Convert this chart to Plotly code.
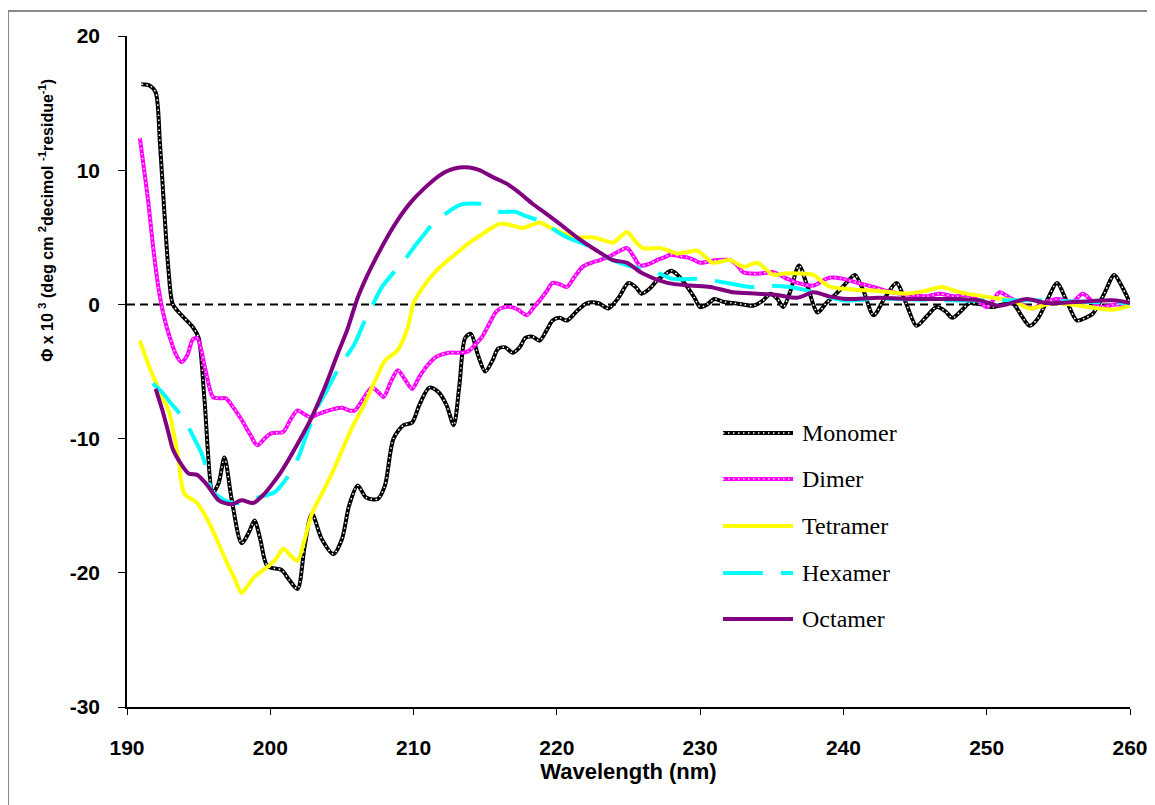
import plotly.graph_objects as go

# ---------------- data ----------------
mono_x = [191.0, 191.6, 192.0, 192.3, 192.6, 192.9, 193.2, 193.8, 194.6, 195.0, 195.4, 196.0, 196.4, 196.8,
          197.3, 198.0, 198.5, 198.9, 199.3, 199.8, 200.8, 201.3, 201.9, 202.4, 202.9, 203.6, 204.4, 205.0,
          205.5, 206.1, 206.7, 207.5, 208.0, 208.6, 209.3, 209.9, 210.4, 211.1, 211.7, 212.3, 212.8, 213.2,
          213.6, 214.0, 214.5, 215.0, 215.5, 215.9, 216.4, 216.9, 217.4, 217.8, 218.3, 218.8, 219.3, 219.7,
          220.2, 220.7, 221.4, 222.1, 222.9, 223.6, 224.3, 225.0, 225.5, 225.9, 226.5, 227.0, 227.5, 228.0,
          228.6, 229.1, 229.6, 230.0, 230.5, 231.0, 231.6, 232.3, 233.0, 233.7, 234.4, 234.9, 235.4, 235.8,
          236.3, 236.9, 237.5, 238.2, 238.8, 239.5, 240.2, 240.8, 241.4, 242.1, 242.9, 243.7, 244.4, 245.1,
          245.8, 246.5, 247.1, 247.6, 248.2, 248.8, 249.6, 250.4, 251.1, 251.8, 252.4, 253.0, 253.6, 254.3,
          254.9, 255.6, 256.3, 256.9, 257.4, 258.2, 258.9, 259.5, 260.0]
mono_y = [16.4, 16.3, 15.8, 12.0, 7.0, 2.5, 0.0, -0.8, -1.7, -2.5, -7.0, -14.0, -13.3, -11.4,
          -14.5, -17.8, -17.0, -16.1, -17.5, -19.5, -19.8, -20.5, -21.2, -18.0, -15.6, -17.5, -18.6, -17.5,
          -15.0, -13.5, -14.4, -14.5, -13.5, -10.0, -9.0, -8.8, -7.5, -6.2, -6.5, -7.5, -9.0, -6.0,
          -2.5, -2.2, -3.8, -5.0, -4.2, -3.3, -3.2, -3.6, -3.2, -2.5, -2.4, -2.7, -1.9, -1.2,
          -1.0, -1.2, -0.5, 0.1, 0.1, -0.3, 0.5, 1.6, 1.3, 0.8, 1.2, 1.8, 2.2, 2.5,
          2.0, 1.3, 0.5, -0.2, 0.0, 0.4, 0.2, 0.1, 0.0, -0.1, 0.3, 0.8, 0.4, -0.2,
          1.0, 2.9, 1.3, -0.6, 0.1, 0.8, 1.6, 2.2, 1.0, -0.8, 0.5, 1.6, 0.0, -1.6,
          -0.9, -0.2, -0.5, -1.0, -0.5, 0.1, 0.0, -0.2, 0.0, 0.1, -0.8, -1.6, -1.0, 0.5,
          1.6, 0.2, -1.2, -1.0, -0.7, 0.8, 2.2, 1.2, 0.1]

dimer_x = [190.9, 191.2, 191.5, 191.8, 192.2, 192.6, 193.0, 193.4, 193.8, 194.2, 194.6, 194.9, 195.2, 195.5,
           196.0, 196.5, 196.9, 197.5, 198.0, 198.6, 199.1, 199.6, 200.1, 200.9, 201.4, 201.9, 202.4, 202.8,
           203.3, 203.8, 204.4, 205.0, 205.5, 205.9, 206.5, 207.1, 207.5, 207.9, 208.4, 208.9, 209.4, 209.9,
           210.4, 211.0, 211.6, 212.5, 213.3, 213.8, 214.3, 214.8, 215.3, 215.8, 216.3, 216.8, 217.3, 217.9,
           218.4, 218.8, 219.3, 219.7, 220.2, 220.7, 221.2, 221.8, 222.4, 223.0, 223.5, 223.9, 224.4, 224.9,
           225.4, 225.8, 226.4, 227.0, 227.5, 227.9, 228.5, 229.1, 229.6, 230.0, 230.6, 231.2, 232.1, 232.6,
           233.0, 233.6, 234.2, 235.1, 235.9, 236.8, 237.9, 238.6, 239.1, 240.0, 241.0, 242.1, 243.0, 244.0,
           244.9, 245.8, 246.7, 247.7, 248.8, 249.4, 250.0, 250.5, 250.9, 251.6, 252.3, 253.2, 254.0, 254.9,
           256.0, 256.7, 257.3, 257.9, 259.0, 260.0]
dimer_y = [12.4, 10.0, 7.5, 4.5, 1.2, -1.0, -2.5, -3.7, -4.3, -3.8, -2.6, -2.5, -3.5, -5.0,
           -6.9, -7.0, -7.0, -7.8, -8.6, -9.7, -10.5, -10.0, -9.6, -9.5, -8.6, -7.9, -8.2, -8.4,
           -8.2, -8.0, -7.8, -7.7, -7.9, -7.9, -7.0, -6.2, -6.5, -6.9, -5.8, -4.9, -5.6, -6.3,
           -5.4, -4.5, -3.9, -3.6, -3.6, -3.5, -3.0, -2.4, -1.4, -0.5, -0.2, -0.2, -0.4, -0.8,
           -0.2, 0.3, 1.0, 1.6, 1.5, 1.3, 2.0, 2.8, 3.1, 3.3, 3.5, 3.7, 4.0, 4.2,
           3.5, 2.9, 3.0, 3.3, 3.5, 3.7, 3.6, 3.5, 3.3, 3.1, 3.2, 3.3, 3.3, 2.9,
           2.4, 2.3, 2.3, 2.4, 2.0, 1.6, 1.4, 1.8, 2.0, 1.9, 1.6, 1.3, 1.0, 0.8,
           0.7, 0.6, 0.8, 0.6, 0.7, 0.3, -0.2, 0.4, 0.9, 0.5, 0.1, -0.3, 0.1, 0.4,
           0.2, 0.8, 0.3, -0.2, 0.0, -0.1]

tetra_x = [190.9, 191.5, 192.2, 192.9, 193.3, 193.6, 194.0, 194.9, 195.5, 196.1, 196.5, 197.0, 197.5, 198.0,
           198.4, 198.9, 199.5, 200.1, 200.5, 200.9, 201.4, 201.9, 202.4, 202.9, 203.6, 204.3, 205.0, 205.7,
           206.3, 206.8, 207.4, 208.0, 208.9, 209.6, 210.0, 210.6, 211.4, 212.3, 213.2, 213.9, 214.6, 215.3,
           216.0, 216.8, 217.6, 218.2, 218.8, 219.4, 220.0, 220.7, 221.4, 222.5, 223.2, 223.9, 224.4, 224.9,
           225.4, 226.0, 227.2, 227.8, 228.4, 229.1, 229.8, 230.4, 230.9, 232.1, 233.0, 234.0, 234.6, 235.1,
           235.9, 236.8, 237.9, 238.5, 239.1, 240.8, 242.5, 244.4, 245.7, 246.9, 247.8, 248.6, 250.4, 251.8,
           253.0, 254.6, 256.5, 258.8, 260.0]
tetra_y = [-2.7, -4.5, -6.3, -7.9, -9.8, -11.6, -14.1, -14.8, -15.8, -17.1, -18.1, -19.3, -20.4, -21.5,
           -21.0, -20.3, -19.8, -19.3, -18.8, -18.2, -18.7, -19.1, -17.5, -15.6, -14.1, -12.6, -10.9, -9.2,
           -8.0, -6.9, -5.5, -4.2, -3.4, -1.7, 0.1, 1.2, 2.3, 3.2, 4.0, 4.6, 5.1, 5.6,
           6.0, 5.9, 5.7, 5.9, 6.1, 5.8, 5.5, 5.2, 5.0, 5.0, 4.8, 4.6, 5.0, 5.4,
           4.8, 4.2, 4.2, 4.0, 3.8, 3.9, 4.0, 3.5, 3.1, 3.3, 2.8, 3.1, 2.6, 2.2,
           2.3, 2.3, 2.2, 1.7, 1.3, 1.1, 1.0, 0.8, 1.0, 1.3, 1.0, 0.8, 0.5, 0.3,
           -0.3, 0.1, -0.1, -0.4, -0.1]

hexa_x = [191.8, 192.4, 193.1, 194.0, 194.6, 195.2, 195.6, 195.9, 196.4, 196.8, 197.4, 198.0, 199.1, 200.3,
          200.9, 201.5, 202.0, 202.4, 203.1, 203.9, 204.7, 205.3, 205.9, 206.6, 207.3, 207.8, 208.7, 209.5,
          210.2, 210.8, 211.4, 212.3, 213.2, 214.6, 215.3, 216.0, 217.1, 217.8, 218.6, 219.6, 220.7, 222.1,
          223.5, 224.4, 225.3, 226.7, 228.1, 230.0, 231.9, 233.5, 234.9, 236.3, 237.2, 238.5, 240.0, 242.0,
          244.0, 247.2, 250.0, 253.2, 256.5, 260.0]
hexa_y = [-5.9, -6.5, -7.4, -8.6, -9.8, -11.1, -12.5, -13.9, -14.3, -14.6, -14.8, -14.8, -14.4, -14.0,
          -13.3, -12.4, -11.3, -10.1, -8.1, -6.5, -4.9, -3.9, -2.9, -1.2, 0.3, 1.3, 2.5, 3.5,
          4.5, 5.3, 6.1, 6.8, 7.4, 7.5, 7.2, 6.9, 6.9, 6.6, 6.3, 5.7, 5.0, 4.4,
          3.5, 3.1, 2.8, 2.5, 1.9, 1.9, 1.6, 1.3, 1.4, 1.3, 1.1, 0.7, 0.3, 0.4,
          0.4, 0.3, 0.3, 0.3, 0.2, 0.1]

octa_x = [192.0, 192.5, 192.9, 193.2, 193.6, 194.3, 194.9, 195.3, 195.7, 196.4, 197.3, 198.0, 198.8, 199.6,
          200.2, 200.8, 201.9, 202.9, 203.8, 204.7, 205.4, 206.1, 206.7, 207.3, 208.1, 208.9, 209.8, 210.8,
          211.8, 212.5, 213.2, 213.9, 214.6, 215.5, 216.5, 217.4, 218.3, 219.2, 220.2, 221.4, 222.8, 223.9,
          224.9, 226.0, 227.7, 229.3, 230.7, 232.3, 234.0, 235.4, 236.8, 237.9, 239.0, 240.2, 242.5, 244.9,
          247.0, 249.5, 250.9, 252.0, 252.8, 254.2, 256.5, 258.8, 260.0]
octa_y = [-6.3, -8.0, -9.6, -10.8, -11.6, -12.6, -12.7, -13.1, -13.6, -14.6, -14.9, -14.6, -14.8, -14.1,
          -13.3, -12.4, -10.4, -8.4, -6.2, -3.7, -1.8, 0.5, 2.0, 3.3, 4.9, 6.3, 7.6, 8.7,
          9.6, 10.0, 10.2, 10.2, 10.0, 9.5, 9.0, 8.3, 7.5, 6.8, 6.0, 5.0, 4.0, 3.3,
          3.1, 2.3, 1.6, 1.4, 1.3, 0.9, 0.8, 0.7, 0.5, 0.9, 0.6, 0.4, 0.5, 0.4,
          0.4, 0.3, -0.1, 0.2, 0.4, 0.1, 0.2, 0.3, 0.1]

series_names = ["Monomer", "Dimer", "Tetramer", "Hexamer", "Octamer"]
x_ticks = [190, 200, 210, 220, 230, 240, 250, 260]
y_ticks = [-30, -20, -10, 0, 10, 20]

# ---------------- styling ----------------
LW = 4
styles = {
    "Monomer": dict(color="#000000", dash="solid", over=dict(color="#FFFFFF", width=1.5, dash="1.5px,3.5px")),
    "Dimer": dict(color="#FF00FF", dash="solid", over=dict(color="#FFE0FF", width=1.5, dash="1.5px,3.5px")),
    "Tetramer": dict(color="#FFFF00", dash="solid", over=None),
    "Hexamer": dict(color="#00FFFF", dash="40px,18px", over=None),
    "Octamer": dict(color="#800080", dash="solid", over=None),
}
data = {
    "Monomer": (mono_x, mono_y),
    "Dimer": (dimer_x, dimer_y),
    "Tetramer": (tetra_x, tetra_y),
    "Hexamer": (hexa_x, hexa_y),
    "Octamer": (octa_x, octa_y),
}

fig = go.Figure()
for name in series_names:
    xs, ys = data[name]
    st = styles[name]
    fig.add_trace(go.Scatter(x=xs, y=ys, mode="lines", name=name, showlegend=False,
                             line=dict(color=st["color"], width=LW, dash=st["dash"],
                                       shape="spline", smoothing=0.8)))
    if st["over"]:
        fig.add_trace(go.Scatter(x=xs, y=ys, mode="lines", name=name + " ", showlegend=False,
                                 hoverinfo="skip",
                                 line=dict(color=st["over"]["color"], width=st["over"]["width"],
                                           dash=st["over"]["dash"], shape="spline", smoothing=0.8)))

# zero reference line
fig.add_shape(type="line", xref="x", yref="y", x0=190, x1=260, y0=0, y1=0,
              line=dict(color="black", width=2, dash="8px,5px"), layer="below")

# outer chart-area border (top and left visible)
fig.add_shape(type="rect", xref="paper", yref="paper", x0=-0.1186, x1=1.2, y0=-0.3, y1=1.0373,
              line=dict(color="#8a8a8a", width=2), layer="below")

# custom legend (long sample lines as in reference)
leg_y = [0.4083, 0.3398, 0.2697, 0.1997, 0.1311]
lx0, lx1, ltx = 0.5942, 0.664, 0.671
for name, yy in zip(series_names, leg_y):
    st = styles[name]
    fig.add_shape(type="line", xref="paper", yref="paper", x0=lx0, x1=lx1, y0=yy, y1=yy,
                  line=dict(color=st["color"], width=LW, dash=st["dash"]))
    if st["over"]:
        fig.add_shape(type="line", xref="paper", yref="paper", x0=lx0, x1=lx1, y0=yy, y1=yy,
                      line=dict(color=st["over"]["color"], width=st["over"]["width"],
                                dash=st["over"]["dash"]))
    fig.add_annotation(xref="paper", yref="paper", x=ltx, y=yy, text=name, showarrow=False,
                       xanchor="left", yanchor="middle",
                       font=dict(family="Liberation Serif, Times New Roman, serif", size=24, color="black"))

# y-axis title as rotated annotation (off-centre, as in reference)
fig.add_annotation(xref="paper", yref="paper", x=-0.0808, y=0.726, textangle=-90, showarrow=False,
                   xanchor="center", yanchor="middle",
                   text="Φ x 10 <sup>3</sup> (deg cm <sup>2</sup>decimol <sup>-1</sup>residue<sup>-1</sup>)",
                   font=dict(family="Liberation Sans, Arial, sans-serif", size=16, color="black",
                             weight="bold"))

tick_font = dict(family="Liberation Sans, Arial, sans-serif", size=21, color="black", weight="bold")
fig.update_xaxes(range=[190, 260], tickvals=x_ticks, ticktext=[str(v) for v in x_ticks],
                 showgrid=False, zeroline=False, showline=True, linecolor="black", linewidth=1.5,
                 ticks="outside", ticklen=6, tickcolor="black", tickwidth=1, tickfont=tick_font,
                 ticklabelstandoff=15, automargin=False,
                 title=dict(text="Wavelength (nm)", standoff=6,
                            font=dict(family="Liberation Sans, Arial, sans-serif", size=22,
                                      color="black", weight="bold")))
fig.update_yaxes(range=[-30, 20], tickvals=y_ticks, ticktext=[str(v) for v in y_ticks],
                 showgrid=False, zeroline=False, showline=True, linecolor="black", linewidth=1.5,
                 ticks="outside", ticklen=7, tickcolor="black", tickwidth=1, tickfont=tick_font,
                 ticklabelstandoff=14, automargin=False)

# the page body adds an 8px offset, so the figure is sized/margined to compensate
fig.update_layout(width=1147, height=797, margin=dict(l=119, r=25, t=28, b=98),
                  paper_bgcolor="white", plot_bgcolor="white", showlegend=False)

fig.write_html("out.html")
